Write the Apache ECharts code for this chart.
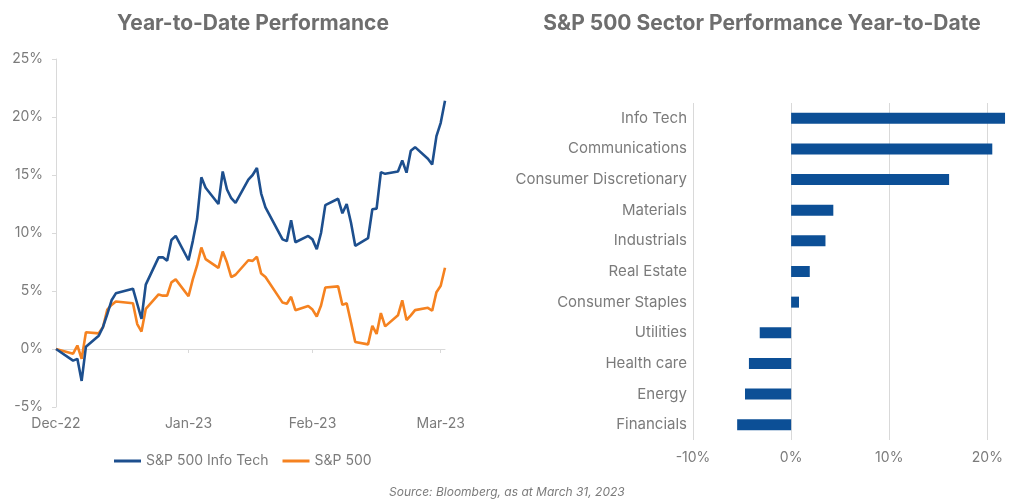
<!DOCTYPE html>
<html><head><meta charset="utf-8">
<script src="https://cdn.jsdelivr.net/npm/echarts/dist/echarts.min.js"></script>
<style>html,body{margin:0;padding:0;background:#fff}#c{width:1024px;height:504px}</style>
</head><body><div id="c"></div>
<script>
const tradingDates = [
'2022-12-30',
'2023-01-03','2023-01-04','2023-01-05','2023-01-06','2023-01-09','2023-01-10','2023-01-11','2023-01-12','2023-01-13',
'2023-01-17','2023-01-18','2023-01-19','2023-01-20','2023-01-23','2023-01-24','2023-01-25','2023-01-26','2023-01-27',
'2023-01-30','2023-01-31',
'2023-02-01','2023-02-02','2023-02-03','2023-02-06','2023-02-07','2023-02-08','2023-02-09','2023-02-10',
'2023-02-13','2023-02-14','2023-02-15','2023-02-16','2023-02-17','2023-02-21','2023-02-22','2023-02-23','2023-02-24',
'2023-02-27','2023-02-28',
'2023-03-01','2023-03-02','2023-03-03','2023-03-06','2023-03-07','2023-03-08','2023-03-09','2023-03-10',
'2023-03-13','2023-03-14','2023-03-15','2023-03-16','2023-03-17','2023-03-20','2023-03-21','2023-03-22','2023-03-23','2023-03-24',
'2023-03-27','2023-03-28','2023-03-29','2023-03-30','2023-03-31'];
const techValues = [
0,
-1.0,-0.85,-2.75,0.2,1.15,1.9,3.0,4.2,4.8,
5.2,3.9,2.6,5.55,7.9,7.9,7.6,9.4,9.75,
7.65,9.3,
11.2,14.8,13.9,12.5,15.3,13.75,13.0,12.6,
14.6,15.0,15.6,13.4,12.2,9.45,9.3,11.1,9.2,
9.75,9.45,
8.6,10.0,12.4,12.95,11.7,12.5,10.9,8.9,
9.55,12.05,12.1,15.25,15.1,15.3,16.25,15.2,17.1,17.4,
16.4,15.9,18.35,19.5,21.4];
const spxValues = [
0,
-0.4,0.3,-0.85,1.45,1.35,1.9,3.4,3.8,4.1,
3.95,2.15,1.5,3.45,4.7,4.6,4.6,5.75,6.0,
4.55,6.0,
7.2,8.75,7.75,7.0,8.4,7.45,6.2,6.4,
7.65,7.6,7.95,6.5,6.2,4.0,3.9,4.5,3.35,
3.7,3.4,
2.8,3.75,5.3,5.4,3.8,3.95,2.3,0.6,
0.4,2.0,1.3,3.1,1.95,2.9,4.2,2.5,2.9,3.35,
3.55,3.3,4.9,5.45,7.0];
const tickDates = ['2022-12-30','2023-01-30','2023-02-28','2023-03-30'];
const tickLabels = ['Dec-22','Jan-23','Feb-23','Mar-23'];
const yTicks = [-5, 0, 5, 10, 15, 20, 25];
const sectors = ['Info Tech','Communications','Consumer Discretionary','Materials','Industrials','Real Estate','Consumer Staples','Utilities','Health care','Energy','Financials'];
const sectorValues = [21.8, 20.5, 16.1, 4.3, 3.5, 1.9, 0.8, -3.2, -4.3, -4.7, -5.5];
const sectorTicks = [-10, 0, 10, 20];

// calendar days on the date axis (weekends/holidays are gaps bridged by the line)
const days = [];
for (let t = Date.UTC(2022, 11, 30); t <= Date.UTC(2023, 2, 31); t += 86400000) {
  days.push(new Date(t).toISOString().slice(0, 10));
}
function onCalendar(vals) {
  const m = {};
  tradingDates.forEach((d, i) => { m[d] = vals[i]; });
  return days.map(d => (d in m ? m[d] : null));
}
const isTick = (i, v) => tickDates.indexOf(v) >= 0;

const FONT = 'Inter, "Noto Sans", sans-serif';
const GREY = '#7b7b7b';
const LINE = '#d9d9d9';

const chart = echarts.init(document.getElementById('c'), null, { renderer: 'canvas' });
chart.setOption({
  backgroundColor: '#ffffff',
  animation: false,
  textStyle: { fontFamily: FONT },
  title: [
    { text: 'Year-to-Date Performance', left: 248, top: 8, textAlign: 'center',
      textStyle: { fontSize: 21, fontWeight: 'bold', color: '#6e6e6e', fontFamily: FONT } },
    { text: 'S&P 500 Sector Performance Year-to-Date', left: 757, top: 8, textAlign: 'center',
      textStyle: { fontSize: 21, fontWeight: 'bold', color: '#6e6e6e', fontFamily: FONT } },
    { text: 'Source: Bloomberg, as at March 31, 2023', left: 384, top: 481,
      textStyle: { fontSize: 12, fontStyle: 'italic', fontWeight: 'normal', color: GREY, fontFamily: FONT } }
  ],
  legend: {
    left: 109, top: 449, itemGap: 14, itemWidth: 27, itemHeight: 3,
    textStyle: { fontSize: 14, color: GREY, fontFamily: FONT },
    data: [
      { name: 'S&P 500 Info Tech', icon: 'rect' },
      { name: 'S&P 500', icon: 'rect' }
    ]
  },
  grid: [
    { left: 56, top: 59, width: 389, height: 348, outerBoundsMode: 'none' },
    { left: 693, top: 103, width: 314, height: 337, outerBoundsMode: 'none' }
  ],
  xAxis: [
    { type: 'category', gridIndex: 0, data: days, boundaryGap: false,
      axisLine: { show: true, onZero: true, lineStyle: { color: LINE, width: 1 } },
      axisTick: { show: true, interval: isTick, length: 4, lineStyle: { color: LINE } },
      axisLabel: { show: false }, splitLine: { show: false } },
    { type: 'category', gridIndex: 0, data: days, boundaryGap: false, position: 'bottom',
      axisLine: { show: false, onZero: false }, axisTick: { show: false },
      axisLabel: { show: true, interval: isTick, margin: 10, fontSize: 14, color: GREY, fontFamily: FONT,
        formatter: v => tickLabels[tickDates.indexOf(v)] },
      splitLine: { show: false } },
    { type: 'value', gridIndex: 1, min: -10, max: 22, interval: 10,
      axisLine: { show: false }, axisTick: { show: false },
      axisLabel: { margin: 11, fontSize: 14, color: GREY, fontFamily: FONT, showMaxLabel: false,
        formatter: v => (sectorTicks.indexOf(v) >= 0 ? v + '%' : '') },
      splitLine: { show: true, showMaxLine: false, lineStyle: { color: LINE, width: 1 } } }
  ],
  yAxis: [
    { type: 'value', gridIndex: 0, min: yTicks[0], max: yTicks[yTicks.length - 1], interval: 5,
      axisLine: { show: true, lineStyle: { color: LINE } },
      axisTick: { show: true, length: 4, lineStyle: { color: LINE } },
      axisLabel: { margin: 13, fontSize: 14, color: GREY, fontFamily: FONT, formatter: '{value}%' },
      splitLine: { show: false } },
    { type: 'category', gridIndex: 1, data: sectors, inverse: true,
      axisLine: { show: false }, axisTick: { show: false },
      axisLabel: { margin: 6, fontSize: 15, color: GREY, fontFamily: FONT },
      splitLine: { show: false } }
  ],
  series: [
    { name: 'S&P 500 Info Tech', type: 'line', xAxisIndex: 0, yAxisIndex: 0,
      data: onCalendar(techValues), connectNulls: true, showSymbol: false, symbol: 'none',
      lineStyle: { color: '#1d4f8e', width: 2.6 }, itemStyle: { color: '#1d4f8e' }, z: 3 },
    { name: 'S&P 500', type: 'line', xAxisIndex: 0, yAxisIndex: 0,
      data: onCalendar(spxValues), connectNulls: true, showSymbol: false, symbol: 'none',
      lineStyle: { color: '#f58220', width: 2.6 }, itemStyle: { color: '#f58220' }, z: 2 },
    { name: 'Sectors', type: 'bar', xAxisIndex: 2, yAxisIndex: 1,
      data: sectorValues, barWidth: 11, itemStyle: { color: '#0c4f96' } }
  ]
});
</script>
</body></html>
